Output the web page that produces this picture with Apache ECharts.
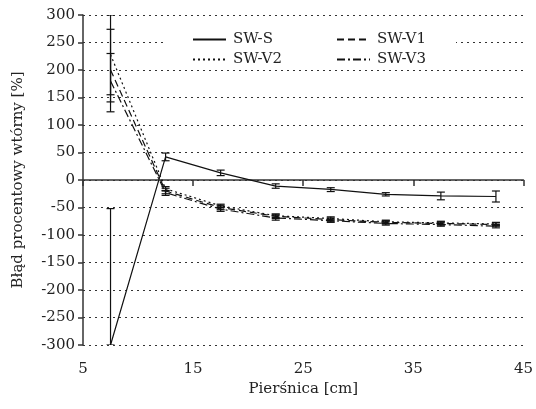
<!DOCTYPE html>
<html><head><meta charset="utf-8">
<script src="https://cdn.jsdelivr.net/npm/echarts@6/dist/echarts.min.js"></script>
<style>html,body{margin:0;padding:0;background:#fff}#c{width:536px;height:409px}</style>
</head><body><div id="c"></div>
<script>
var xs = [7.5, 12.5, 17.5, 22.5, 27.5, 32.5, 37.5, 42.5];
var swS  = [-300, 42, 13, -11, -17, -26, -29, -30];
var swV1 = [200, -20, -50, -66, -72, -77, -79, -81];
var swV2 = [228, -16, -47, -65, -70, -76, -78, -80];
var swV3 = [180, -23, -53, -69, -74, -79, -81, -84];
var errS  = [[-52, -300], [49, 35], [18, 8], [-7, -15], [-14, -21], [-23, -29], [-22, -36], [-20, -40]];
var errV1 = [[274, 124], [-15, -25], [-46, -54], [-62, -70], [-69, -75], [-74, -80], [-76, -82], [-78, -84]];
var errV2 = [[300, 155], [-12, -20], [-44, -50], [-62, -68], [-67, -73], [-73, -79], [-75, -81], [-77, -83]];
var errV3 = [[230, 142], [-19, -28], [-49, -57], [-65, -73], [-71, -77], [-76, -82], [-78, -84], [-81, -87]];
var names = ['SW-S', 'SW-V1', 'SW-V2', 'SW-V3'];
var dashes = ['solid', [7, 4], [2, 3], [8, 3, 2, 3]];
var vals = [swS, swV1, swV2, swV3];
var errs = [errS, errV1, errV2, errV3];

var FONT = 'DejaVu Serif';
var series = [];
vals.forEach(function (v, i) {
  series.push({
    name: names[i], type: 'line', symbol: 'none', xAxisIndex: 0,
    data: xs.map(function (x, j) { return [x, v[j]]; }),
    lineStyle: { color: '#111', width: 1.2, type: dashes[i] },
    itemStyle: { color: '#111' }, z: 3
  });
});
errs.forEach(function (e, i) {
  series.push({
    type: 'custom', xAxisIndex: 0, clip: true, z: 4,
    data: xs.map(function (x, j) { return [x, e[j][0], e[j][1]]; }),
    renderItem: function (params, api) {
      var hi = api.coord([api.value(0), api.value(1)]);
      var lo = api.coord([api.value(0), api.value(2)]);
      var w = 4;
      var st = { stroke: '#111', lineWidth: 1.2 };
      return { type: 'group', children: [
        { type: 'line', shape: { x1: hi[0], y1: hi[1], x2: lo[0], y2: lo[1] }, style: st },
        { type: 'line', shape: { x1: hi[0] - w, y1: hi[1], x2: hi[0] + w, y2: hi[1] }, style: st },
        { type: 'line', shape: { x1: lo[0] - w, y1: lo[1], x2: lo[0] + w, y2: lo[1] }, style: st }
      ]};
    }
  });
});

var chart = echarts.init(document.getElementById('c'));
var txt = { color: '#222', fontFamily: FONT, fontSize: 15 };
var legendCommon = { orient: 'vertical', top: 27, itemWidth: 33, itemHeight: 10, itemGap: 5,
  textStyle: Object.assign({ padding: [0, 0, 0, 2] }, txt), itemStyle: { opacity: 0 }, z: 5 };
chart.setOption({
  animation: false,
  backgroundColor: '#fff',
  grid: { left: 83, right: 12, top: 15, bottom: 64 },
  graphic: [{ type: 'rect', shape: { x: 166, y: 24, width: 290, height: 36 }, style: { fill: '#fff' }, z: 3 }],
  legend: [
    Object.assign({ data: ['SW-S', 'SW-V2'], left: 187 }, legendCommon),
    Object.assign({ data: ['SW-V1', 'SW-V3'], left: 331 }, legendCommon)
  ],
  xAxis: [
    { type: 'value', min: 5, max: 45, interval: 10, position: 'bottom',
      name: 'Pierśnica [cm]', nameLocation: 'middle', nameGap: 37, nameTextStyle: txt,
      axisLine: { show: false, onZero: false }, axisTick: { show: false },
      axisLabel: Object.assign({ margin: 17 }, txt), splitLine: { show: false } },
    { type: 'value', min: 5, max: 45, interval: 10, position: 'bottom',
      axisLine: { show: true, onZero: true, lineStyle: { color: '#333', width: 1.5 } },
      axisTick: { show: true, length: 6, lineStyle: { color: '#333', width: 1.5 } },
      axisLabel: { show: false }, splitLine: { show: false } }
  ],
  yAxis: {
    type: 'value', min: -300, max: 300, interval: 50,
    name: 'Błąd procentowy wtórny [%]', nameLocation: 'middle', nameGap: 57, nameTextStyle: txt,
    axisLine: { show: true, onZero: false, lineStyle: { color: '#333', width: 1.5 } },
    axisTick: { show: true, length: 5, lineStyle: { color: '#333', width: 1.5 } },
    axisLabel: Object.assign({ margin: 8 }, txt),
    splitLine: { show: true, lineStyle: { color: '#333', width: 1, type: [2, 4] } }
  },
  series: series
});
</script></body></html>
